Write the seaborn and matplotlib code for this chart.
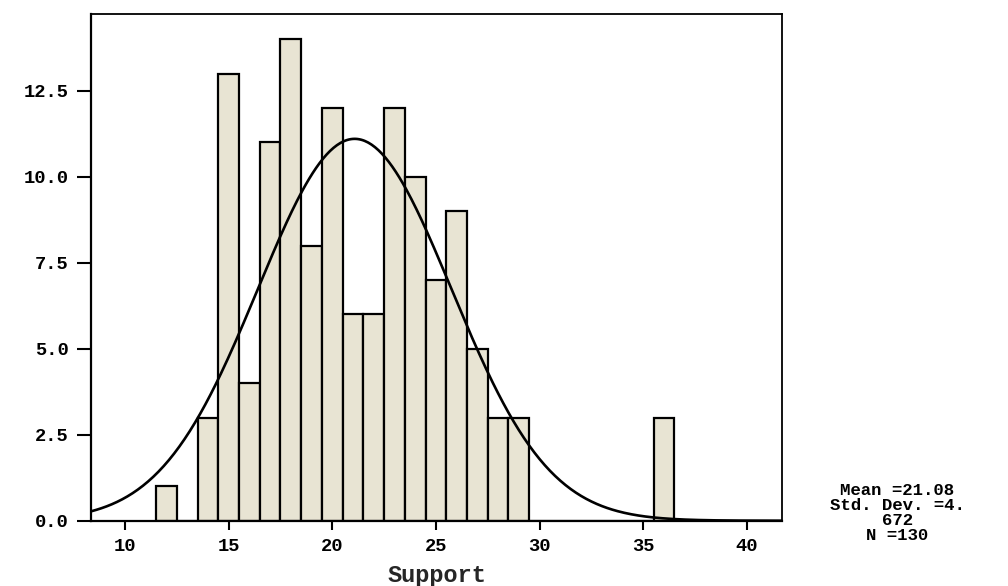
import matplotlib.pyplot as plt
import numpy as np
import seaborn as sns

# histogram counts (bins of width 1, centred on integers)
support_values = [12, 14, 15, 16, 17, 18, 19, 20, 21, 22, 23, 24, 25, 26, 27, 28, 29, 36]
frequencies = [1, 3, 13, 4, 11, 14, 8, 12, 6, 6, 12, 10, 7, 9, 5, 3, 3, 3]

MEAN = 21.08
STD = 4.672
N = 130

x_ticks = [10, 15, 20, 25, 30, 35, 40]
y_ticks = [0.0, 2.5, 5.0, 7.5, 10.0, 12.5]

sns.set_theme(style="ticks")
plt.rcParams['font.family'] = ['Liberation Mono', 'DejaVu Sans Mono']
plt.rcParams['font.weight'] = 'bold'

fig = plt.figure(figsize=(10.08, 5.86), dpi=100)
ax = fig.add_axes([0.0903, 0.1114, 0.6855, 0.8647])

sns.histplot(x=support_values, weights=frequencies, discrete=True,
             color='#E8E4D3', alpha=1.0, edgecolor='black', linewidth=1.6, ax=ax)

# fitted normal curve
xlim = (8.36, 41.7)
xs = np.linspace(xlim[0], xlim[1], 400)
ys = N * np.exp(-0.5 * ((xs - MEAN) / STD) ** 2) / (STD * np.sqrt(2 * np.pi))
sns.lineplot(x=xs, y=ys, color='black', linewidth=1.9, ax=ax)

ax.set_xlim(*xlim)
ax.set_ylim(0, 14.73)
ax.set_xticks(x_ticks)
ax.set_yticks(y_ticks)
ax.set_yticklabels([f"{v:.1f}" for v in y_ticks])
ax.set_ylabel("")
ax.set_xlabel("Support", fontsize=17, fontweight='bold')
ax.xaxis.set_label_coords(0.5, -0.108)
ax.xaxis.label.set_va('center')

ax.tick_params(axis='y', direction='out', length=10, width=1.5, pad=6,
               labelsize=13.5, color='black', labelcolor='black')
ax.tick_params(axis='x', direction='out', length=6.5, width=1.5, pad=6,
               labelsize=13.5, color='black', labelcolor='black')
for lab in ax.get_xticklabels() + ax.get_yticklabels():
    lab.set_fontweight('bold')

for side in ['top', 'right', 'left', 'bottom']:
    ax.spines[side].set_visible(True)
    ax.spines[side].set_color('black')
    ax.spines[side].set_linewidth(1.3)
ax.spines['left'].set_linewidth(1.6)
ax.spines['bottom'].set_linewidth(1.6)
ax.set_facecolor('white')

fig.text(0.89, 0.125, f"Mean ={MEAN:.2f}\nStd. Dev. =4.\n672\nN ={N}",
         ha='center', va='center', fontsize=12.5, fontweight='bold',
         linespacing=1.0, color='black')

fig.savefig("out.png", dpi=100, facecolor='white')
